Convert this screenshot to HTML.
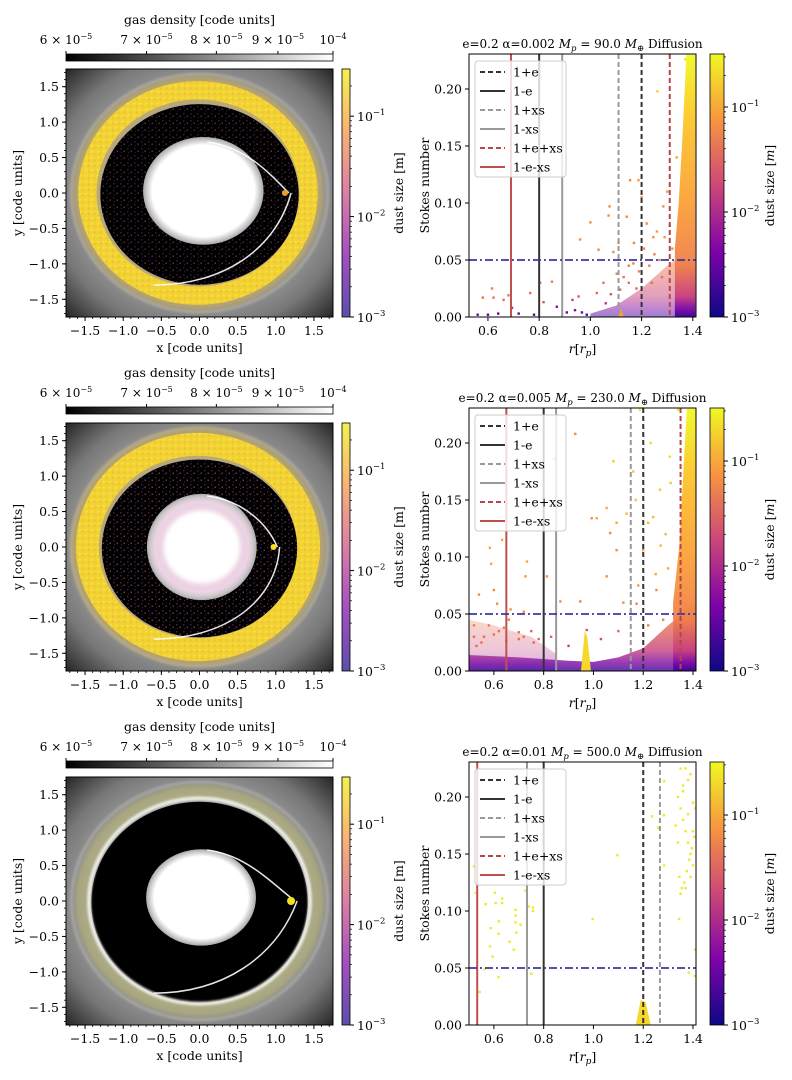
<!DOCTYPE html>
<html><head><meta charset="utf-8">
<style>
html,body{margin:0;padding:0;background:#fff;}
svg{display:block;font-family:"DejaVu Serif","Liberation Serif",serif;}
</style></head>
<body>
<svg id="fig" xmlns="http://www.w3.org/2000/svg" width="792" height="1080" viewBox="0 0 792 1080">
<defs>
<linearGradient id="gasGrad" x1="0" y1="0" x2="1" y2="0">
<stop offset="0" stop-color="#000"/><stop offset="1" stop-color="#fff"/></linearGradient>
<linearGradient id="plasmaV" x1="0" y1="1" x2="0" y2="0">
<stop offset="0" stop-color="#0d0887"/><stop offset="0.25" stop-color="#7e03a8"/><stop offset="0.5" stop-color="#cc4778"/><stop offset="0.75" stop-color="#f89540"/><stop offset="1" stop-color="#f0f921"/></linearGradient>
<linearGradient id="plasmaA" x1="0" y1="1" x2="0" y2="0">
<stop offset="0" stop-color="#5b4fac"/><stop offset="0.25" stop-color="#a34fc0"/><stop offset="0.5" stop-color="#da7fa6"/><stop offset="0.75" stop-color="#f9b276"/><stop offset="1" stop-color="#f3f24e"/></linearGradient>
<radialGradient id="bgGrad" cx="0.5" cy="0.5" r="0.72">
<stop offset="0" stop-color="#bbb"/><stop offset="0.6" stop-color="#9a9a9a"/><stop offset="0.78" stop-color="#777"/><stop offset="1" stop-color="#1e1e1e"/></radialGradient>
<radialGradient id="discGrad" cx="0.5" cy="0.5" r="0.5">
<stop offset="0.85" stop-color="#fff"/><stop offset="1" stop-color="#aaa"/></radialGradient>
<filter id="blur1"><feGaussianBlur stdDeviation="2"/></filter>
<filter id="blur2"><feGaussianBlur stdDeviation="1"/></filter>
<pattern id="speck" width="7" height="7" patternUnits="userSpaceOnUse">
<rect x="1" y="1" width="1.5" height="1.5" fill="#7a3a8a"/><rect x="4.5" y="3.5" width="1.5" height="1.5" fill="#c76a50"/><rect x="2" y="5" width="1.2" height="1.2" fill="#5a3090"/></pattern>
<pattern id="speckY" width="6" height="6" patternUnits="userSpaceOnUse">
<rect width="6" height="6" fill="#f1d232"/><rect x="1" y="1" width="1.5" height="1.5" fill="#f8e850"/><rect x="4" y="3.5" width="1.2" height="1.2" fill="#eaa848"/><rect x="3" y="0.5" width="1" height="1" fill="#f6df3c"/></pattern>
</defs>
<g id="root"></g>
</svg>
<script>
// ===== Data =====
const rowTitles = ["e=0.2 \u03b1=0.002 ", "e=0.2 \u03b1=0.005 ", "e=0.2 \u03b1=0.01 "];
const planetMass = [90.0, 230.0, 500.0];
const eccVal = 0.2;
const xsVal = [0.11, 0.15, 0.267];
const stokesCut = 0.05;
const rTicks = [0.6, 0.8, 1.0, 1.2, 1.4];
const stTicks = [0.00, 0.05, 0.10, 0.15, 0.20];
const xyTicks = [-1.5, -1.0, -0.5, 0.0, 0.5, 1.0, 1.5];
const gasTicks = [6e-5, 7e-5, 8e-5, 9e-5, 1e-4];
const gasTickLabels = ["6", "7", "8", "9", ""];
const sizeTicks = [-3, -2, -1];
const legendLabels = ["1+e", "1-e", "1+xs", "1-xs", "1+e+xs", "1-e-xs"];
const rMin = [0.526, 0.5, 0.5];
const rMax = [1.4125, 1.412, 1.412];
const stMax = 0.2307;

// Row 1 scatter
const R1 = [0.58,0.616,0.622,0.661,0.68,0.694,0.765,0.804,0.85,0.817,0.869,0.96,1.0,0.954,1.032,1.075,1.071,1.09,1.11,1.142,1.155,1.188,1.2,1.22,1.262,1.246,1.285,1.3,1.337,1.37,1.168,1.103,1.051,1.025,1.116,0.967,0.908,0.986,0.56,0.6,0.64,0.72,0.78,0.93,0.94,1.06,1.15,1.25,1.28,1.32,1.24,1.18,1.13,1.17,1.21,1.26,1.29,1.31,1.23,1.27,1.19,1.15,1.08];
const S1 = [0.017,0.025,0.017,0.015,0.019,0.008,0.021,0.03,0.031,0.013,0.009,0.068,0.083,0.018,0.059,0.097,0.089,0.057,0.065,0.088,0.12,0.12,0.105,0.082,0.198,0.07,0.097,0.11,0.14,0.226,0.047,0.038,0.03,0.021,0.024,0.004,0.004,0.002,0.002,0.002,0.003,0.003,0.002,0.015,0.006,0.012,0.045,0.055,0.035,0.06,0.03,0.025,0.035,0.065,0.06,0.075,0.07,0.08,0.045,0.05,0.04,0.03,0.02];
const D1 = [-1.4,-1.3,-1.4,-1.4,-1.4,-2.0,-1.4,-1.3,-1.3,-1.6,-2.3,-1.2,-1.2,-1.6,-1.2,-1.2,-1.2,-1.2,-1.2,-1.2,-1.2,-1.1,-1.2,-1.2,-0.7,-1.2,-1.2,-1.1,-1.0,-0.6,-1.3,-1.3,-1.4,-1.5,-1.5,-2.4,-2.4,-2.6,-2.5,-2.5,-2.5,-2.5,-2.5,-1.8,-2.3,-1.9,-1.3,-1.3,-1.4,-1.2,-1.4,-1.5,-1.4,-1.2,-1.2,-1.1,-1.1,-1.1,-1.3,-1.3,-1.3,-1.4,-1.6];
// Row 2 scatter
const R2 = [0.927,0.843,1.08,1.053,0.993,1.013,1.067,1.093,1.133,1.16,1.187,1.093,1.053,0.947,0.867,0.813,0.727,0.733,0.589,0.584,0.633,0.6,0.54,0.52,0.613,0.667,0.72,1.147,1.2,1.24,1.267,1.307,1.34,1.173,1.253,0.973,0.56,0.62,0.7,0.76,0.83,0.9,1.03,1.1,1.22,1.28,0.53,0.66,0.58,0.75,1.17,1.23,1.29,1.31,0.55,0.6,0.65,0.7,0.78,0.52,0.64,0.72,1.12,1.18,1.25,1.3,1.27,1.22];
const S2 = [0.208,0.186,0.184,0.143,0.134,0.134,0.121,0.13,0.138,0.175,0.229,0.106,0.083,0.061,0.061,0.083,0.083,0.096,0.094,0.108,0.115,0.071,0.067,0.04,0.059,0.054,0.052,0.089,0.106,0.135,0.159,0.188,0.229,0.059,0.071,0.036,0.03,0.035,0.028,0.025,0.03,0.022,0.028,0.035,0.04,0.045,0.022,0.045,0.04,0.035,0.15,0.2,0.12,0.165,0.025,0.032,0.026,0.034,0.028,0.03,0.038,0.03,0.06,0.075,0.085,0.09,0.11,0.13];
const D2 = [-1.2,-1.0,-0.8,-1.0,-1.2,-1.0,-1.2,-1.0,-0.9,-0.8,-0.6,-1.2,-1.2,-1.3,-1.2,-1.2,-1.1,-1.0,-1.0,-1.0,-1.0,-1.2,-1.2,-1.3,-1.2,-1.2,-1.2,-1.1,-1.0,-0.9,-0.8,-0.7,-0.6,-1.3,-1.2,-1.7,-1.4,-1.4,-1.4,-1.5,-1.5,-1.8,-1.7,-1.5,-1.3,-1.3,-1.4,-1.3,-1.3,-1.5,-0.8,-0.7,-0.9,-0.8,-1.4,-1.4,-1.4,-1.4,-1.5,-1.4,-1.3,-1.4,-1.2,-1.1,-1.0,-1.0,-0.9,-0.9];
// Row 3 scatter
const R3 = [0.52,0.527,0.543,0.563,0.567,0.587,0.584,0.595,0.604,0.607,0.62,0.619,0.619,0.633,0.633,0.663,0.68,0.687,0.687,0.687,0.69,0.707,0.727,0.74,0.757,0.757,0.75,0.997,1.096,1.236,1.284,1.283,1.26,1.284,1.344,1.383,1.409,1.407,1.34,1.35,1.36,1.37,1.38,1.39,1.4,1.345,1.355,1.365,1.375,1.385,1.395,1.405,1.33,1.36,1.39,1.37,1.4,1.35,1.38,1.34,1.36,1.38,1.4,1.35,1.37,1.39,1.41];
const S3 = [0.139,0.116,0.029,0.049,0.106,0.085,0.069,0.06,0.116,0.107,0.091,0.08,0.042,0.111,0.107,0.073,0.066,0.101,0.096,0.09,0.081,0.088,0.118,0.104,0.103,0.1,0.045,0.093,0.149,0.183,0.214,0.184,0.173,0.14,0.093,0.046,0.066,0.043,0.2,0.19,0.18,0.17,0.16,0.15,0.14,0.13,0.12,0.125,0.135,0.145,0.155,0.165,0.175,0.21,0.22,0.225,0.195,0.115,0.185,0.16,0.205,0.215,0.17,0.225,0.12,0.13,0.19];
const D3 = S3.map(()=>-0.6);

// Density envelopes (r, stokes top)
const envR1 = [1.0,1.1,1.2,1.3,1.33,1.41];
const envT1 = [0.003,0.01,0.025,0.045,0.05,0.05];
const denseR1 = [1.33,1.345,1.36,1.375,1.41];
const denseT1 = [0.06,0.1,0.16,0.23,0.23];
const envR2 = [0.5,0.7,0.9,1.0,1.1,1.2,1.3,1.41];
const envT2 = [0.014,0.012,0.009,0.008,0.012,0.02,0.04,0.06];
const envR2b = [0.5,0.6,0.75,0.85];
const envT2b = [0.045,0.04,0.03,0.015];
const denseR2 = [1.32,1.345,1.36,1.375,1.41];
const denseT2 = [0.06,0.11,0.17,0.23,0.23];
const spikeR = [[1.11,1.12,1.13],[0.95,0.965,0.975,0.99],[1.17,1.19,1.21,1.23]];
const spikeT = [[0,0.008,0],[0,0.035,0.03,0],[0,0.022,0.02,0]];

// Left panel ring structure (code units)
const ringR = [1.45, 1.45, 1.45];
const ringW = [0.24, 0.3, 0.06];
const blackR = [1.3, 1.28, 1.42];
const discX = [0.05, 0.03, 0.02];
const discY = [0.03, 0.0, 0.05];
const discRx = [0.79, 0.72, 0.72];
const discRy = [0.76, 0.75, 0.68];
const planetX = [1.12, 0.97, 1.2];

// ===== helpers =====
const NS = "http://www.w3.org/2000/svg";
const root = document.getElementById('root');
function el(tag, attrs, parent, text){
  const e = document.createElementNS(NS, tag);
  for (const k in attrs) e.setAttribute(k, attrs[k]);
  if (text !== undefined) e.textContent = text;
  (parent||root).appendChild(e);
  return e;
}
function plasma(t){
  const stops=[[13,8,135],[126,3,168],[204,71,120],[248,149,64],[240,249,33]];
  t=Math.max(0,Math.min(1,t))*4; const i=Math.min(3,Math.floor(t)); const f=t-i;
  const a=stops[i], b=stops[i+1];
  return `rgb(${Math.round(a[0]+(b[0]-a[0])*f)},${Math.round(a[1]+(b[1]-a[1])*f)},${Math.round(a[2]+(b[2]-a[2])*f)})`;
}
const logTop = -0.495;
function sizeT(d){ return (d+3)/(logTop+3); }
function fmt(v){ return (v<0?"\u2212":"")+Math.abs(v).toFixed(1); }

const rowsY = [[69,317],[423,671],[777,1025]];
const rightY = [[54,317],[408,671],[762,1025]];
const cbTop = [54,407,761];

for (let row=0; row<3; row++){
  // ================= LEFT PANEL =================
  const L = el('g', {}, root);
  
  
  const lx0=66, lx1=333, ly0=rowsY[row][0], ly1=rowsY[row][1];
  const sx = (lx1-lx0)/3.5, sy=(ly1-ly0)/3.5;
  const px = x => lx0 + (x+1.75)*sx;
  const py = y => ly1 - (y+1.75)*sy;
  const cx = px(0), cy = py(0);
  const clipId='lclip'+row;
  const cp = el('clipPath',{id:clipId},L); el('rect',{x:lx0,y:ly0,width:lx1-lx0,height:ly1-ly0},cp);
  const img = el('g',{'clip-path':`url(#${clipId})`},L);
  
  
  el('rect',{x:lx0,y:ly0,width:lx1-lx0,height:ly1-ly0,fill:'url(#bgGrad)'},img);
  el('ellipse',{cx:cx,cy:cy,rx:1.68*sx,ry:1.68*sy,fill:'none',stroke:'#bbb','stroke-width':3,opacity:0.5,filter:'url(#blur2)'},img);
  const dusty = el('g',{},img);
  if(row<2){
    el('ellipse',{cx:cx-0.02*sx,cy:cy,rx:ringR[row]*sx,ry:ringR[row]*sy,fill:'none',stroke:'#dcb84a','stroke-width':(ringW[row]+0.14)*sx,opacity:0.45,filter:'url(#blur1)'},dusty);
    el('ellipse',{cx:cx-0.02*sx,cy:cy,rx:ringR[row]*sx,ry:ringR[row]*sy,fill:'none',stroke:'url(#speckY)','stroke-width':ringW[row]*sx},dusty);
  }
  el('ellipse',{cx:cx,cy:cy+0.02*sy,rx:blackR[row]*sx,ry:blackR[row]*sy*(row==2?1.0:0.98),fill:'#000'},img);
  if(row<2){
    el('ellipse',{cx:cx,cy:cy+0.02*sy,rx:blackR[row]*sx,ry:blackR[row]*sy*0.98,fill:'url(#speck)',opacity:row==0?0.45:0.55},img);
  }
  if(row==2){
    el('ellipse',{cx:cx,cy:cy,rx:ringR[row]*sx,ry:ringR[row]*sy,fill:'none',stroke:'#eee','stroke-width':4,filter:'url(#blur2)'},img);
    el('ellipse',{cx:cx,cy:cy,rx:(ringR[row]+0.1)*sx,ry:(ringR[row]+0.1)*sy,fill:'none',stroke:'#d8d050','stroke-width':12,opacity:0.3,filter:'url(#blur1)'},img);
  }
  el('ellipse',{cx:px(discX[row]),cy:py(discY[row]),rx:discRx[row]*sx,ry:discRy[row]*sy,fill:'url(#discGrad)'},img);
  if(row==1){
    el('ellipse',{cx:px(discX[row]),cy:py(discY[row]),rx:0.58*sx,ry:0.6*sy,fill:'none',stroke:'#c880b0','stroke-width':12,opacity:0.35,filter:'url(#blur1)'},img);
  }
  const p = planetX[row];
  el('path',{d:`M${px(p+0.05)},${py(0)} C${px(0.9)},${py(0.3)} ${px(0.6)},${py(0.65)} ${px(0.1)},${py(0.72)} M${px(p+0.08)},${py(0)} C${px(1.0)},${py(-0.8)} ${px(0.3)},${py(-1.3)} ${px(-0.6)},${py(-1.3)}`,fill:'none',stroke:'#fff','stroke-width':1.5,opacity:0.9},img);
  el('circle',{cx:px(p),cy:py(0),r:row==2?4:3,fill:row==0?'#f39a2a':'#f5e020'},img);
  el('rect',{x:lx0,y:ly0,width:lx1-lx0,height:ly1-ly0,fill:'none',stroke:'#000','stroke-width':1},L);
  for(let v=-1.7; v<=1.71; v+=0.1){
    el('line',{x1:px(v),x2:px(v),y1:ly1,y2:ly1+2,stroke:'#000','stroke-width':0.8},L);
    el('line',{x1:lx0,x2:lx0-2,y1:py(v),y2:py(v),stroke:'#000','stroke-width':0.8},L);
  }
  xyTicks.forEach(v=>{
    el('line',{x1:px(v),x2:px(v),y1:ly1,y2:ly1+4,stroke:'#000'},L);
    el('line',{x1:lx0,x2:lx0-4,y1:py(v),y2:py(v),stroke:'#000'},L);
    const tx=el('text',{x:px(v),y:ly1+18,'font-size':12.5,'text-anchor':'middle'},L,fmt(v));
    
    const ty=el('text',{x:lx0-7,y:py(v)+4.5,'font-size':12.5,'text-anchor':'end'},L,fmt(v));
    
  });
  const xl=el('text',{x:(lx0+lx1)/2,y:ly1+35,'font-size':12.5,'text-anchor':'middle'},L,'x [code units]');
  
  const yl=el('text',{x:0,y:0,'font-size':12.5,'text-anchor':'middle',transform:`translate(22,${(ly0+ly1)/2}) rotate(-90)`},L,'y [code units]');
  
  const gb=el('g',{},L);
  
  
  const gy=cbTop[row];
  el('rect',{x:lx0,y:gy,width:lx1-lx0,height:7,fill:'url(#gasGrad)',stroke:'#000','stroke-width':0.8},gb);
  const gpos = v => lx0 + (Math.log10(v)-Math.log10(6e-5))/(Math.log10(1e-4)-Math.log10(6e-5))*(lx1-lx0);
  gasTicks.forEach((v,i)=>{
    const gx=gpos(v);
    el('line',{x1:gx,x2:gx,y1:gy,y2:gy-3,stroke:'#000'},gb);
    if(i<4){
      const t=el('text',{x:gx,y:gy-10,'font-size':12,'text-anchor':'middle'},gb);
      t.appendChild(document.createTextNode(gasTickLabels[i]+" \u00d7 10"));
      el('tspan',{dy:-5,'font-size':8},t,"\u22125");
    } else {
      const t=el('text',{x:gx,y:gy-10,'font-size':12,'text-anchor':'middle'},gb,"10");
      el('tspan',{dy:-5,'font-size':8},t,"\u22124");
    }
  });
  const gt=el('text',{x:(lx0+lx1)/2,y:gy-30,'font-size':12.5,'text-anchor':'middle'},gb,'gas density [code units]');
  
  const db=el('g',{},L);
  
  
  el('rect',{x:342,y:ly0,width:8,height:ly1-ly0,fill:'url(#plasmaA)',stroke:'#000','stroke-width':0.8},db);
  const dpos = d => ly1 - (d+3)/(-0.53+3)*(ly1-ly0);
  sizeTicks.forEach(d=>{
    el('line',{x1:350,x2:354,y1:dpos(d),y2:dpos(d),stroke:'#000'},db);
    const t=el('text',{x:357,y:dpos(d)+5,'font-size':12.5},db,'10');
    el('tspan',{dy:-6,'font-size':8.5},t,'\u2212'+(-d));
    for(let m=2;m<10;m++){const v=d+Math.log10(m); if(v<-0.53) el('line',{x1:350,x2:352,y1:dpos(v),y2:dpos(v),stroke:'#000','stroke-width':0.7},db);}
  });
  el('text',{x:0,y:0,'font-size':12.5,'text-anchor':'middle',transform:`translate(403,${(ly0+ly1)/2}) rotate(-90)`},db,'dust size [m]');

  // ================= RIGHT PANEL =================
  const Rg = el('g',{},root);
  
  
  const rx0=469, rx1=696, ry0=rightY[row][0], ry1=rightY[row][1];
  const xr = r => rx0 + (r-rMin[row])/(rMax[row]-rMin[row])*(rx1-rx0);
  const ys = s => ry1 - s/stMax*(ry1-ry0);
  const rc='rclip'+row;
  const cp2=el('clipPath',{id:rc},Rg); el('rect',{x:rx0,y:ry0,width:rx1-rx0,height:ry1-ry0},cp2);
  const plot=el('g',{'clip-path':`url(#${rc})`},Rg);
  const gid='dg'+row;
  const lg=el('linearGradient',{id:gid,gradientUnits:'userSpaceOnUse',x1:0,y1:ys(0),x2:0,y2:ys(0.23)},Rg);
  [[0,'#3b049a'],[0.03,'#7a0aa5'],[0.08,'#c8407e'],[0.2,'#f0804a'],[0.45,'#fba238'],[0.75,'#fcc52a'],[1,'#f0f921']].forEach(s=>el('stop',{offset:s[0],'stop-color':s[1]},lg));
  function envPoly(Rs,Ts,op,name){
    let d=`M${xr(Rs[0])},${ys(0)}`;
    Rs.forEach((r,i)=>{d+=` L${xr(r)},${ys(Ts[i])}`;});
    d+=` L${xr(Rs[Rs.length-1])},${ys(0)} Z`;
    const e=el('path',{d:d,fill:`url(#${gid})`,opacity:op},plot);
    
    
  }
  if(row==0){ envPoly(envR1,envT1,0.5,'sparse-dust-region'); envPoly(denseR1,denseT1,0.95,'dense-dust-region'); }
  if(row==1){ envPoly(envR2b,envT2b,0.3,'sparse-dust-region-left'); envPoly(envR2,envT2,0.8,'sparse-dust-region'); envPoly(denseR2,denseT2,0.95,'dense-dust-region'); }
  const sp = el('path',{},plot);
  let dsp=`M${xr(spikeR[row][0])},${ys(0)}`;
  spikeR[row].forEach((r,i)=>{dsp+=` L${xr(r)},${ys(spikeT[row][i])}`;});
  sp.setAttribute('d',dsp+' Z');
  sp.setAttribute('fill',row==0?'#f7a03a':'#f5d82c');
  
  const RR=[R1,R2,R3][row], SS=[S1,S2,S3][row], DD=[D1,D2,D3][row];
  RR.forEach((r,i)=>{
    const c=el('rect',{x:xr(r)-1.2,y:ys(SS[i])-1.2,width:2.4,height:2.4,fill:plasma(sizeT(DD[i]))},plot);
    
    
  });
  const e=eccVal, xs=xsVal[row];
  const lineVals=[1+e,1-e,1+xs,1-xs,1+e+xs,1-e-xs];
  const lineCol=['#333','#333','#999','#999','#b5474b','#c0504d'];
  const lineDash=['5,3','none','5,3','none','5,3','none'];
  lineVals.forEach((v,i)=>{
    const ln=el('line',{x1:xr(v),x2:xr(v),y1:ry0,y2:ry1,stroke:lineCol[i],'stroke-width':2,'stroke-dasharray':lineDash[i]},plot);
    
  });
  const hl=el('line',{x1:rx0,x2:rx1,y1:ys(stokesCut),y2:ys(stokesCut),stroke:'#3a3aa0','stroke-width':1.8,'stroke-dasharray':'8,3,2,3'},plot);
  
  el('rect',{x:rx0,y:ry0,width:rx1-rx0,height:ry1-ry0,fill:'none',stroke:'#000','stroke-width':1},Rg);
  rTicks.forEach(v=>{
    el('line',{x1:xr(v),x2:xr(v),y1:ry1,y2:ry1+4,stroke:'#000'},Rg);
    el('text',{x:xr(v),y:ry1+18,'font-size':12.5,'text-anchor':'middle'},Rg,v.toFixed(1));
  });
  stTicks.forEach(v=>{
    el('line',{x1:rx0,x2:rx0-4,y1:ys(v),y2:ys(v),stroke:'#000'},Rg);
    el('text',{x:rx0-7,y:ys(v)+4.5,'font-size':12.5,'text-anchor':'end'},Rg,v.toFixed(2));
  });
  const rl=el('text',{x:(rx0+rx1)/2,y:ry1+36,'font-size':12.5,'text-anchor':'middle'},Rg);
  
  el('tspan',{'font-style':'italic'},rl,'r');
  el('tspan',{},rl,'[');
  el('tspan',{'font-style':'italic'},rl,'r');
  el('tspan',{'font-style':'italic','font-size':9,dy:3},rl,'p');
  el('tspan',{dy:-3},rl,']');
  const sl=el('text',{x:0,y:0,'font-size':12.5,'text-anchor':'middle',transform:`translate(429,${(ry0+ry1)/2}) rotate(-90)`},Rg,'Stokes number');
  
  const tt=el('text',{x:(rx0+rx1)/2,y:ry0-6,'font-size':12,'text-anchor':'middle'},Rg,rowTitles[row]);
  
  el('tspan',{'font-style':'italic'},tt,'M');
  el('tspan',{'font-style':'italic','font-size':8.5,dy:3},tt,'p');
  el('tspan',{dy:-3},tt,' = '+planetMass[row].toFixed(1)+' ');
  el('tspan',{'font-style':'italic'},tt,'M');
  el('tspan',{'font-size':8.5,dy:3},tt,'\u2295');
  el('tspan',{dy:-3},tt,'  Diffusion');
  const lgG=el('g',{},Rg);
  
  
  el('rect',{x:475,y:ry0+7,width:91,height:116,rx:3,fill:'#fff','fill-opacity':0.8,stroke:'#ccc'},lgG);
  legendLabels.forEach((lab,i)=>{
    const yy=ry0+18+i*19;
    const le=el('g',{},lgG);
    
    
    el('line',{x1:480,x2:505,y1:yy,y2:yy,stroke:lineCol[i],'stroke-width':2,'stroke-dasharray':lineDash[i]},le);
    el('text',{x:513,y:yy+4.5,'font-size':12.5},le,lab);
  });
  const cb=el('g',{},Rg);
  
  
  el('rect',{x:710,y:ry0,width:14,height:ry1-ry0,fill:'url(#plasmaV)',stroke:'#000','stroke-width':0.8},cb);
  const cpos = d => ry1 - (d+3)/(logTop+3)*(ry1-ry0);
  sizeTicks.forEach(d=>{
    el('line',{x1:724,x2:728,y1:cpos(d),y2:cpos(d),stroke:'#000'},cb);
    const t=el('text',{x:731,y:cpos(d)+5,'font-size':12.5},cb,'10');
    el('tspan',{dy:-6,'font-size':8.5},t,'\u2212'+(-d));
    for(let m=2;m<10;m++){const v=d+Math.log10(m); if(v<logTop) el('line',{x1:724,x2:726,y1:cpos(v),y2:cpos(v),stroke:'#000','stroke-width':0.7},cb);}
  });
  const cl=el('text',{x:0,y:0,'font-size':12.5,'text-anchor':'middle',transform:`translate(774,${(ry0+ry1)/2}) rotate(-90)`},cb,'dust size [');
  el('tspan',{'font-style':'italic'},cl,'m');
  el('tspan',{},cl,']');
}
</script>
</body></html>
